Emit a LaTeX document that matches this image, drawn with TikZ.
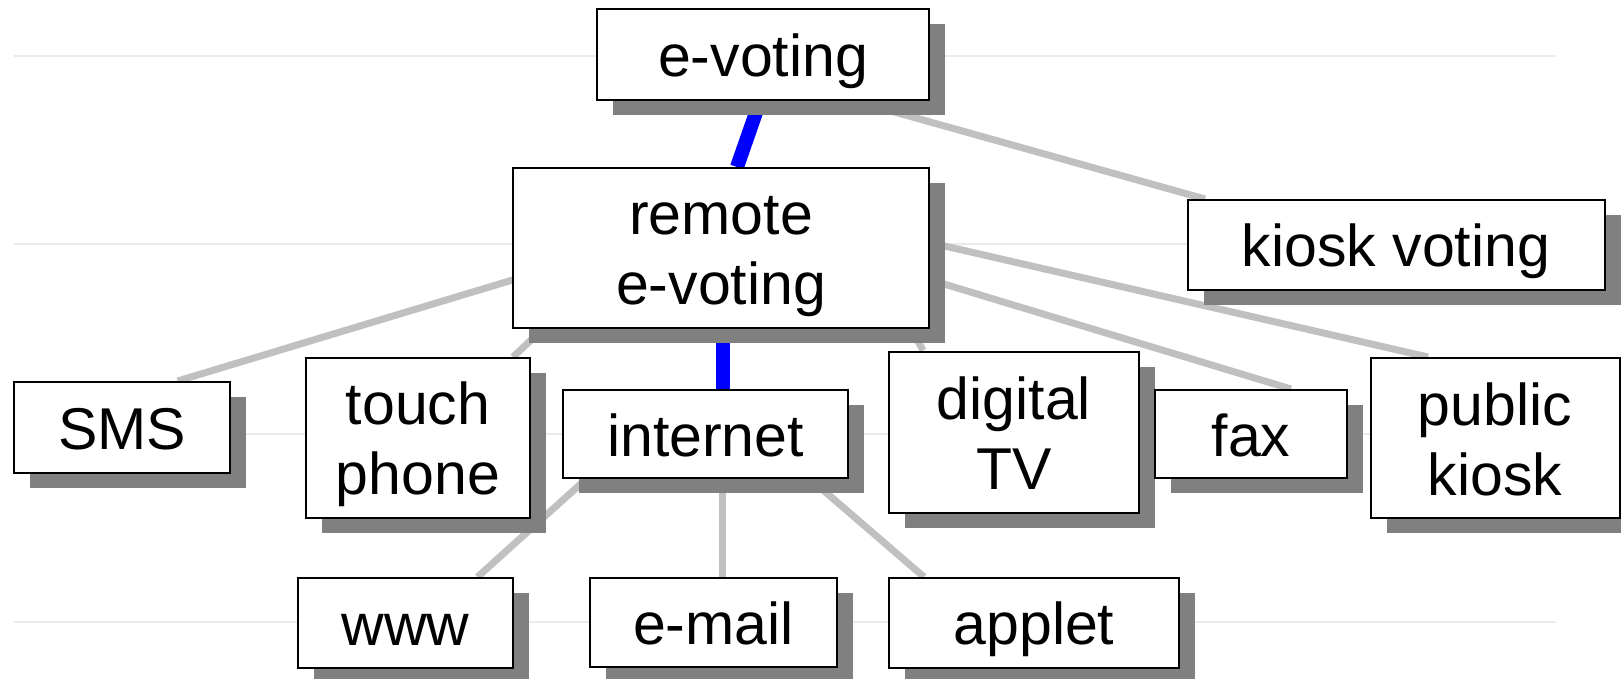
\documentclass[tikz,border=0pt]{standalone}
\usepackage{fontspec}
\setmainfont{Liberation Sans}
\usetikzlibrary{calc,shadows}
\definecolor{shadowgray}{HTML}{808080}
\definecolor{linkgray}{HTML}{C0C0C0}
\definecolor{rulegray}{HTML}{EBEBEB}
\definecolor{pathblue}{HTML}{0000FF}
\pgfdeclarelayer{background}
\pgfsetlayers{background,main}
\newcommand\mystrut{\rule[-0.2em]{0pt}{1.15em}}
\tikzset{
  box/.style={draw=black, line width=2pt, fill=white, inner sep=0pt,
    align=center, font=\fontsize{59}{70}\selectfont,
    drop shadow={shadow xshift=16pt, shadow yshift=-15pt, fill=shadowgray, opacity=1}},
  link/.style={draw=linkgray, line width=7pt},
  mainlink/.style={draw=pathblue, line width=14pt},
  guide/.style={draw=rulegray, line width=2.5pt}
}
\begin{document}
\begin{tikzpicture}[x=1pt, y=-1pt]
\useasboundingbox (0,0) rectangle (1621,678);

% boxes
\node[box, minimum width=332pt, minimum height=91pt]  (evote)    at (763,54.5)   {\mystrut e-voting};
\node[box, minimum width=416pt, minimum height=160pt] (remote)   at (721,248)    {\mystrut remote\\\mystrut e-voting};
\node[box, minimum width=417pt, minimum height=90pt]  (kiosk)    at (1396,245)   {\mystrut kiosk voting};
\node[box, minimum width=216pt, minimum height=91pt]  (sms)      at (122,427.5)  {\mystrut SMS};
\node[box, minimum width=224pt, minimum height=160pt] (touch)    at (418,438)    {\mystrut touch\\\mystrut phone};
\node[box, minimum width=285pt, minimum height=88pt]  (internet) at (705.5,434)  {\mystrut internet};
\node[box, minimum width=250pt, minimum height=161pt] (dtv)      at (1014,432)   {\mystrut digital\\\mystrut TV};
\node[box, minimum width=192pt, minimum height=88pt]  (fax)      at (1251,434)   {\mystrut fax};
\node[box, minimum width=249pt, minimum height=160pt] (pkiosk)   at (1495,438)   {\mystrut public\\\mystrut kiosk};
\node[box, minimum width=215pt, minimum height=90pt]  (www)      at (405.5,623)  {\mystrut www};
\node[box, minimum width=247pt, minimum height=89pt]  (email)    at (713.5,622.5){\mystrut e-mail};
\node[box, minimum width=290pt, minimum height=90pt]  (applet)   at (1034,623)   {\mystrut applet};

\begin{pgfonlayer}{background}
  % horizontal guide rules
  \foreach \gy in {56,244,434,622}
    \draw[guide] (13.5,\gy) -- (1556,\gy);

  % connectors
  \draw[link] ($(evote.south)+(87,-1.5)$) -- ($(kiosk.north)+(-191,0)$);
  \draw[link] ($(remote.west)+(17,27)$) -- ($(sms.north)+(55.6,0)$);
  \draw[link] ($(remote.south)+(-175,-3)$) -- ($(touch.north)+(95,0)$);
  \draw[link] ($(remote.south)+(184,-12)$) -- ($(dtv.north)+(-91,0)$);
  \draw[link] ($(remote.east)+(-29,23)$) -- ($(fax.north)+(40,0)$);
  \draw[link] ($(remote.east)+(-29,-12)$) -- ($(pkiosk.north)+(-67,0)$);
  \draw[link] ($(internet.south)+(-110.5,-8)$) -- ($(www.north)+(72,0)$);
  \draw[link] ($(internet.south)+(17,0)$) -- ($(email.north)+(9,0)$);
  \draw[link] ($(internet.south)+(95.5,-8)$) -- ($(applet.north)+(-110,0)$);
  \draw[mainlink] ($(evote.south)+(-3,0)$) -- ($(remote.north)+(16,0)$);
  \draw[mainlink] ($(remote.south)+(1.5,0)$) -- ($(internet.north)+(17,0)$);
\end{pgfonlayer}
\end{tikzpicture}
\end{document}
